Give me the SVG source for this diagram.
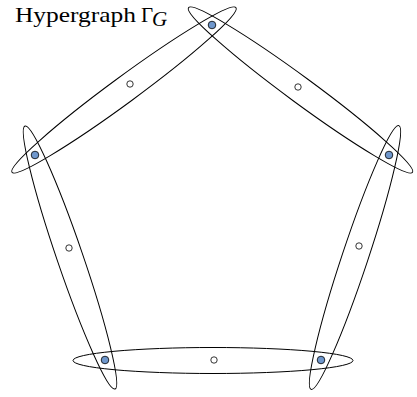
<svg xmlns="http://www.w3.org/2000/svg" width="417" height="397" viewBox="0 0 417 397">
<style>
.e{fill:none;stroke:#000;stroke-width:1}
.v{fill:#6f97cc;stroke:#000;stroke-width:0.8}
.w{fill:#fff;stroke:#000;stroke-width:0.8}
.t{font-family:"Liberation Serif","DejaVu Serif",serif;font-size:21px;fill:#000}
</style>
<rect width="417" height="397" fill="#fff"/>
<g id="title">
<text class="t" x="15" y="22" textLength="121" lengthAdjust="spacingAndGlyphs">Hypergraph</text>
<text class="t" x="141" y="22">Γ</text>
<text class="t" x="152" y="26" font-style="italic" font-size="14">G</text>
</g>
<g id="edges">
<ellipse id="e1" class="e" cx="124" cy="90" rx="139" ry="13" transform="rotate(-36.3 124 90)"/>
<ellipse id="e2" class="e" cx="300.5" cy="90" rx="139" ry="13" transform="rotate(36.3 300.5 90)"/>
<ellipse id="e3" class="e" cx="70" cy="257.5" rx="139" ry="13" transform="rotate(71.1 70 257.5)"/>
<ellipse id="e4" class="e" cx="355" cy="257.5" rx="139" ry="13" transform="rotate(108.4 355 257.5)"/>
<ellipse id="e5" class="e" cx="213" cy="360.5" rx="140" ry="13"/>
</g>
<g id="v1"><circle class="v" cx="212" cy="25" r="3.8"/></g>
<g id="v2"><circle class="v" cx="35" cy="155" r="3.8"/></g>
<g id="v3"><circle class="v" cx="389" cy="155" r="3.8"/></g>
<g id="v4"><circle class="v" cx="105" cy="360" r="3.8"/></g>
<g id="v5"><circle class="v" cx="321" cy="360" r="3.8"/></g>
<g id="w1"><circle class="w" cx="130" cy="84" r="3.2"/></g>
<g id="w2"><circle class="w" cx="298" cy="87" r="3.2"/></g>
<g id="w3"><circle class="w" cx="69" cy="248" r="3.2"/></g>
<g id="w4"><circle class="w" cx="359" cy="246" r="3.2"/></g>
<g id="w5"><circle class="w" cx="214" cy="360" r="3.2"/></g>
</svg>
